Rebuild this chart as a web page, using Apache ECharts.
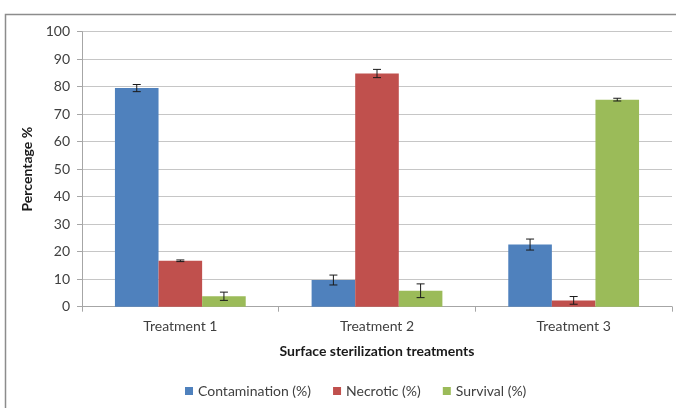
<!DOCTYPE html>
<html><head><meta charset="utf-8">
<script src="https://cdn.jsdelivr.net/npm/echarts@6/dist/echarts.min.js"></script>
<style>html,body{margin:0;padding:0;background:#fff}#c{width:676px;height:408px}</style>
</head><body><div id="c"></div>
<script>
var categories = ['Treatment 1', 'Treatment 2', 'Treatment 3'];
var seriesNames = ['Contamination (%)', 'Necrotic (%)', 'Survival (%)'];
var contamination = [79.5, 9.7, 22.6];
var necrotic = [16.7, 84.8, 2.3];
var survival = [3.8, 5.8, 75.3];
var contaminationErr = [1.3, 1.8, 2.0];
var necroticErr = [0.3, 1.5, 1.4];
var survivalErr = [1.5, 2.5, 0.5];
var yTicks = [0, 10, 20, 30, 40, 50, 60, 70, 80, 90, 100];

var colors = ['#4F81BD', '#C0504D', '#9BBB59'];
var values = [contamination, necrotic, survival];
var errs = [contaminationErr, necroticErr, survivalErr];
var gapRatio = 0.335;
var font = 'Lato, "Open Sans", sans-serif';

var series = [];
values.forEach(function (v, i) {
  series.push({
    name: seriesNames[i], type: 'bar', data: v,
    itemStyle: { color: colors[i] },
    barGap: '0%', barCategoryGap: (gapRatio * 100) + '%'
  });
});
values.forEach(function (v, i) {
  series.push({
    type: 'custom', silent: true, z: 5,
    data: v.map(function (val, k) { return [k, val, errs[i][k]]; }),
    encode: { x: 0, y: 1 },
    renderItem: function (params, api) {
      var k = api.value(0), val = api.value(1), e = api.value(2);
      var band = api.size([1, 0])[0];
      var bw = band * (1 - gapRatio) / 3;
      var c = api.coord([k, val]);
      var x = c[0] + (i - 1) * bw;
      var yHi = api.coord([k, val + e])[1];
      var yLo = api.coord([k, val - e])[1];
      var cap = 4;
      var st = { stroke: '#1a1a1a', lineWidth: 1 };
      return { type: 'group', children: [
        { type: 'line', shape: { x1: x, y1: yHi, x2: x, y2: yLo }, style: st },
        { type: 'line', shape: { x1: x - cap, y1: yHi, x2: x + cap, y2: yHi }, style: st },
        { type: 'line', shape: { x1: x - cap, y1: yLo, x2: x + cap, y2: yLo }, style: st }
      ]};
    }
  });
});

var chart = echarts.init(document.getElementById('c'));
chart.setOption({
  animation: false,
  textStyle: { fontFamily: font },
  graphic: [{
    type: 'rect', shape: { x: 5.5, y: 14.5, width: 700, height: 420 },
    style: { fill: 'none', stroke: '#8c8c8c', lineWidth: 1.5 }, z: -1
  }],
  grid: { left: 82, right: 4, top: 31.7, bottom: 101.3, containLabel: false },
  legend: {
    data: seriesNames, bottom: 5, left: 180, itemWidth: 8, itemHeight: 8,
    itemGap: 22, icon: 'rect',
    textStyle: { fontSize: 14, color: '#404040', fontFamily: font }
  },
  xAxis: {
    type: 'category', data: categories,
    name: 'Surface sterilization treatments', nameLocation: 'middle', nameGap: 38,
    nameTextStyle: { fontWeight: 'bold', fontSize: 14, color: '#1a1a1a', fontFamily: font },
    axisLine: { lineStyle: { color: '#a6a6a6' } },
    axisTick: { show: true, alignWithLabel: false, length: 5, lineStyle: { color: '#a6a6a6' } },
    axisLabel: { fontSize: 14, color: '#404040', margin: 13 }
  },
  yAxis: {
    type: 'value', min: 0, max: 100, interval: 10,
    name: 'Percentage %', nameLocation: 'middle', nameGap: 37, nameRotate: 90,
    nameTextStyle: { fontWeight: 'bold', fontSize: 14, color: '#1a1a1a', fontFamily: font },
    axisLine: { show: true, lineStyle: { color: '#a6a6a6' } },
    axisTick: { show: true, length: 5, lineStyle: { color: '#a6a6a6' } },
    axisLabel: { fontSize: 14, color: '#404040', margin: 12,
      formatter: function (v) { return yTicks.indexOf(v) >= 0 ? String(v) : ''; } },
    splitLine: { lineStyle: { color: '#c6c6c6', width: 1 } }
  },
  series: series
});
</script></body></html>
